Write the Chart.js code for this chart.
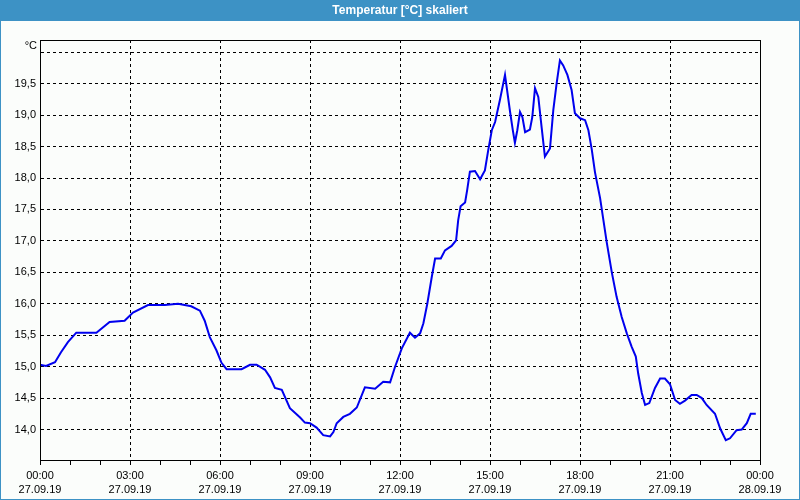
<!DOCTYPE html>
<html>
<head>
<meta charset="utf-8">
<script src="https://cdn.jsdelivr.net/npm/chart.js@4/dist/chart.umd.min.js"></script>
<style>
  html, body { margin: 0; padding: 0; background: #fbfdfb; }
  canvas { display: block; }
</style>
</head>
<body>
<canvas id="c" width="800" height="500"></canvas>
<script>
// ---- data (hours since 27.09.19 00:00, temperature °C) ----
const hours = [0.00,0.20,0.50,0.70,0.93,1.21,1.88,2.32,2.82,3.10,3.60,4.16,4.60,5.04,5.33,5.49,5.66,5.88,6.05,6.22,
  6.72,7.00,7.22,7.50,7.67,7.83,8.06,8.33,8.67,8.83,9.00,9.22,9.44,9.67,9.78,9.89,10.11,10.33,10.56,10.83,
  11.17,11.44,11.67,11.83,12.06,12.33,12.50,12.67,12.78,12.91,13.06,13.17,13.36,13.50,13.72,13.87,13.94,14.02,14.17,14.24,
  14.33,14.50,14.67,14.83,14.94,15.06,15.17,15.33,15.50,15.67,15.76,15.83,15.91,16.00,16.08,16.17,16.33,16.41,16.50,16.61,
  16.72,16.83,17.00,17.11,17.22,17.33,17.44,17.58,17.72,17.83,18.00,18.17,18.28,18.39,18.50,18.67,18.78,18.89,19.06,19.22,
  19.39,19.56,19.72,19.86,19.94,20.06,20.17,20.31,20.50,20.67,20.83,21.00,21.17,21.33,21.50,21.72,21.89,22.06,22.22,22.50,
  22.67,22.86,23.00,23.22,23.39,23.56,23.69,23.86];
const temps = [15.03,15.01,15.07,15.23,15.39,15.54,15.54,15.71,15.73,15.86,15.98,15.98,16.00,15.96,15.89,15.73,15.47,15.26,15.06,14.96,
  14.96,15.03,15.03,14.95,14.83,14.66,14.63,14.34,14.19,14.11,14.10,14.03,13.91,13.89,13.96,14.10,14.20,14.25,14.35,14.67,
  14.65,14.76,14.75,14.99,15.29,15.54,15.46,15.53,15.69,16.00,16.43,16.72,16.72,16.85,16.92,17.01,17.33,17.55,17.61,17.81,
  18.10,18.11,17.98,18.12,18.44,18.76,18.89,19.24,19.64,19.05,18.76,18.56,18.76,19.05,18.97,18.73,18.77,18.97,19.43,19.29,
  18.81,18.34,18.47,19.08,19.50,19.87,19.79,19.64,19.40,19.03,18.95,18.92,18.76,18.46,18.09,17.68,17.33,16.98,16.50,16.11,
  15.79,15.53,15.32,15.16,14.89,14.58,14.39,14.42,14.66,14.81,14.81,14.72,14.47,14.41,14.46,14.55,14.55,14.50,14.39,14.25,
  14.02,13.83,13.86,13.99,14.00,14.10,14.25,14.25];

// ---- ticks ----
const yTicks = [14.0,14.5,15.0,15.5,16.0,16.5,17.0,17.5,18.0,18.5,19.0,19.5,20.0];
const yTickLabels = ['14,0','14,5','15,0','15,5','16,0','16,5','17,0','17,5','18,0','18,5','19,0','19,5',''];
const xTicks = [0,1,2,3,4,5,6,7,8,9,10,11,12,13,14,15,16,17,18,19,20,21,22,23,24];
const xTickTimes = {0:'00:00',3:'03:00',6:'06:00',9:'09:00',12:'12:00',15:'15:00',18:'18:00',21:'21:00',24:'00:00'};
const xTickDates = {0:'27.09.19',3:'27.09.19',6:'27.09.19',9:'27.09.19',12:'27.09.19',15:'27.09.19',18:'27.09.19',21:'27.09.19',24:'28.09.19'};

const titleText = 'Temperatur [°C] skaliert';
const unitText = '°C';

const points = hours.map((h, i) => ({ x: h, y: temps[i] }));

const frame = {
  id: 'frame',
  beforeDraw(chart) {
    const ctx = chart.ctx;
    ctx.save();
    ctx.fillStyle = '#fbfdfb';
    ctx.fillRect(0, 0, 800, 500);
    ctx.restore();
  },
  afterDraw(chart) {
    const ctx = chart.ctx;
    const a = chart.chartArea;
    ctx.save();
    // title bar
    ctx.fillStyle = '#3d92c5';
    ctx.fillRect(0, 0, 800, 21);
    ctx.fillRect(0, 0, 1, 500);
    ctx.fillRect(799, 0, 1, 500);
    ctx.fillRect(0, 499, 800, 1);
    ctx.fillStyle = '#ffffff';
    ctx.font = 'bold 12px "Liberation Sans", Arial, sans-serif';
    ctx.textAlign = 'center';
    ctx.textBaseline = 'middle';
    ctx.fillText(titleText, 400, 10.5);
    // unit label
    ctx.fillStyle = '#000';
    ctx.font = '11px "Liberation Sans", Arial, sans-serif';
    ctx.textAlign = 'right';
    ctx.fillText(unitText, 37, 46);
    // plot border
    ctx.strokeStyle = '#000';
    ctx.lineWidth = 1;
    ctx.setLineDash([]);
    ctx.strokeRect(Math.round(a.left) + 0.5, Math.round(a.top) + 0.5,
      Math.round(a.right - a.left), Math.round(a.bottom - a.top));
    ctx.restore();
  }
};

new Chart(document.getElementById('c'), {
  type: 'line',
  data: {
    datasets: [{
      data: points,
      borderColor: '#0000ee',
      borderWidth: 2,
      pointRadius: 0,
      tension: 0,
      fill: false
    }]
  },
  options: {
    responsive: false,
    devicePixelRatio: 1,
    animation: false,
    layout: { padding: { top: 40, right: 40, left: 0, bottom: 0 } },
    plugins: { legend: { display: false }, title: { display: false }, tooltip: { enabled: false } },
    scales: {
      x: {
        type: 'linear',
        min: 0, max: 24,
        afterBuildTicks: s => { s.ticks = xTicks.map(v => ({ value: v })); },
        afterFit: s => { s.height = 40; },
        ticks: {
          autoSkip: false, maxRotation: 0, minRotation: 0,
          padding: 3,
          color: '#000',
          font: { family: '"Liberation Sans", Arial, sans-serif', size: 11, lineHeight: 1.36 },
          callback: v => (xTickTimes[v] !== undefined ? [xTickTimes[v], xTickDates[v]] : '')
        },
        grid: {
          color: c => (c.tick && c.tick.value % 3 === 0 ? '#000' : 'rgba(0,0,0,0)'),
          tickColor: '#000',
          tickLength: 5,
          lineWidth: 1
        },
        border: { display: true, color: '#000', dash: [3, 3] }
      },
      y: {
        type: 'linear',
        min: 13.515, max: 20.195,
        afterBuildTicks: s => { s.ticks = yTicks.map(v => ({ value: v })); },
        afterFit: s => { s.width = 40; },
        ticks: {
          padding: 4,
          color: '#000',
          font: { family: '"Liberation Sans", Arial, sans-serif', size: 11 },
          callback: (v, i) => yTickLabels[i]
        },
        grid: { color: '#000', drawTicks: false, lineWidth: 1 },
        border: { display: true, color: '#000', dash: [3, 3] }
      }
    }
  },
  plugins: [frame]
});
</script>
</body>
</html>
